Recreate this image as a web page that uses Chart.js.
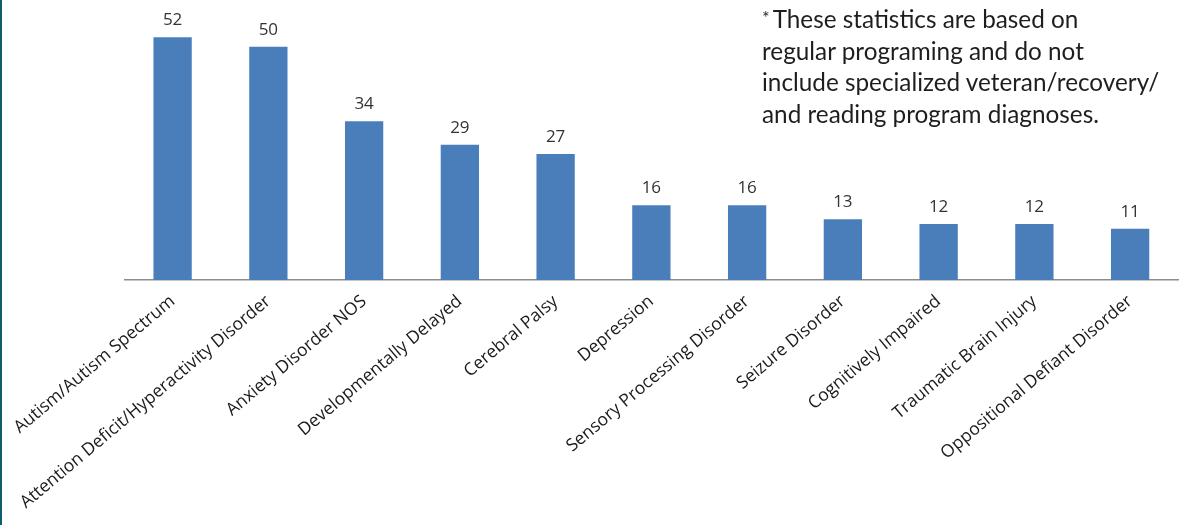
<!DOCTYPE html>
<html>
<head>
<meta charset="utf-8">
<script src="https://cdn.jsdelivr.net/npm/chart.js@4/dist/chart.umd.min.js"></script>
<style>
  html, body { margin: 0; padding: 0; background: #fff; }
  #wrap { position: relative; width: 1180px; height: 525px; overflow: hidden; }
  #edge { position: absolute; left: 0; top: 0; width: 2px; height: 525px; background: #0f5e70; }
  #note {
    position: absolute; left: 762px; top: 2px; width: 420px;
    font-family: Lato, "Open Sans", sans-serif; font-size: 24.3px; line-height: 31.5px; color: #1e1e1e;
  }
  #note sup { font-size: 18px; vertical-align: 4px; margin-right: 3px; }
</style>
</head>
<body>
<div id="wrap">
  <canvas id="myChart" width="1180" height="525"></canvas>
  <div id="edge"></div>
  <div id="note"><sup>*</sup>These statistics are based on<br>regular programing and do not<br>include specialized veteran/recovery/<br>and reading program diagnoses.</div>
</div>
<script>
const diagnoses = [
  'Autism/Autism Spectrum',
  'Attention Deficit/Hyperactivity Disorder',
  'Anxiety Disorder NOS',
  'Developmentally Delayed',
  'Cerebral Palsy',
  'Depression',
  'Sensory Processing Disorder',
  'Seizure Disorder',
  'Cognitively Impaired',
  'Traumatic Brain Injury',
  'Oppositional Defiant Disorder'
];
const counts = [52, 50, 34, 29, 27, 16, 16, 13, 12, 12, 11];

// numbers over the bars
const barLabels = {
  id: 'barLabels',
  afterDatasetsDraw(chart) {
    const ctx = chart.ctx;
    const meta = chart.getDatasetMeta(0);
    ctx.save();
    ctx.font = '17px "Open Sans", sans-serif';
    ctx.fillStyle = '#333';
    ctx.textAlign = 'center';
    ctx.textBaseline = 'alphabetic';
    meta.data.forEach((bar, i) => {
      ctx.fillText(counts[i], bar.x, bar.y - 12);
    });
    ctx.restore();
  }
};

const ctx = document.getElementById('myChart');
new Chart(ctx, {
  type: 'bar',
  data: {
    labels: diagnoses,
    datasets: [{
      data: counts,
      backgroundColor: '#4a7ebb',
      borderWidth: 0,
      barPercentage: 0.4,
      categoryPercentage: 1
    }]
  },
  options: {
    responsive: false,
    animation: false,
    layout: { padding: { left: 121, right: 2, top: 0, bottom: 0 } },
    plugins: { legend: { display: false }, tooltip: { enabled: false } },
    scales: {
      x: {
        grid: { display: false, drawTicks: false },
        border: { display: true, color: '#8c8c8c', width: 1.5 },
        afterFit(scale) { scale.height = 245; },
        ticks: {
          autoSkip: false,
          minRotation: 40,
          maxRotation: 40,
          padding: 11,
          color: '#1a1a1a',
          font: { family: '"Open Sans", sans-serif', size: 17.5 }
        }
      },
      y: {
        display: false,
        min: 0,
        max: 60
      }
    }
  },
  plugins: [barLabels]
});
</script>
</body>
</html>
